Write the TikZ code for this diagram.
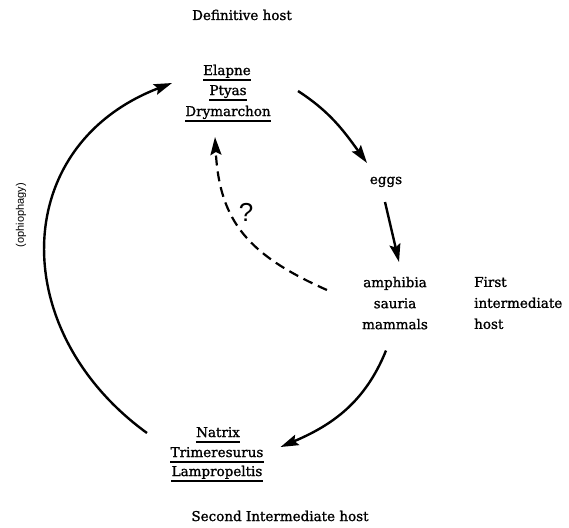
\documentclass[tikz,border=0pt]{standalone}
\usepackage{fontspec}
\setmainfont{DejaVu Serif}[FakeBold=1.2]
\newfontfamily\labelsans{Liberation Sans}
\usetikzlibrary{arrows.meta,calc}

\begin{document}
\begin{tikzpicture}[x=1pt, y=1pt, font=\fontsize{13.5}{21}\selectfont,
  taxon/.style={inner sep=0pt, anchor=base},
  arr/.style={line width=2.4pt, -{Stealth[length=18pt,width=11pt,inset=3pt]}},
  uline/.style={line width=1.1pt}]
  \useasboundingbox (0,0) rectangle (569,-527);

  \node[anchor=base] (defhost) at (242,-20) {Definitive host};
  \node[taxon] (elapne) at (227,-75) {Elapne};
  \node[taxon] (ptyas) at (228,-95) {Ptyas};
  \node[taxon] (drym) at (228,-116) {Drymarchon};

  \node[taxon] (eggs) at (386,-184) {eggs};
  \node[inner sep=0pt, anchor=north, align=center] (hosts) at (395,-276.7) {amphibia\\sauria\\mammals};
  \node[inner sep=0pt, anchor=north west, align=left] (first) at (474,-276.7) {First\\intermediate\\host};

  \node[taxon] (natrix) at (218,-437) {Natrix};
  \node[taxon] (trim) at (217,-457) {Trimeresurus};
  \node[taxon] (lamp) at (217,-476) {Lampropeltis};
  \node[anchor=base] (sechost) at (280,-521) {Second Intermediate host};

  \node[font=\labelsans\fontsize{11}{13}\selectfont, rotate=90] (ophio) at (21,-215) {(ophiophagy)};
  \node[font=\labelsans\fontsize{26}{30}\selectfont] (quest) at (246,-212) {?};

  % underlined genera
  \foreach \n in {elapne,ptyas,drym,natrix,trim,lamp}
    \draw[uline] ([yshift=-5pt]\n.base west) -- ([yshift=-5pt]\n.base east);

  % the cycle
  \draw[arr] ([shift={(70,4)}]ptyas.base) to[out=-33,in=126] ([shift={(-19,21)}]eggs.base);
  \draw[arr] ([shift={(-1,-18)}]eggs.base) -- ([shift={(4,14.7)}]hosts.north);
  \draw[arr] ([shift={(-9,-21)}]hosts.south) to[out=-112,in=23] ([shift={(17,10)}]trim.base east);
  \draw[arr] ([shift={(-49,4)}]natrix.base west) to[out=144,in=-159,looseness=1.27] ([shift={(-31,-8)}]elapne.base west);
  \draw[arr, line width=2.2pt, dash pattern=on 10pt off 6pt] ([shift={(-35,-13.3)}]hosts.north west) to[out=156,in=-87,looseness=1.15] ([shift={(-13,-21)}]drym.base);
\end{tikzpicture}
\end{document}
